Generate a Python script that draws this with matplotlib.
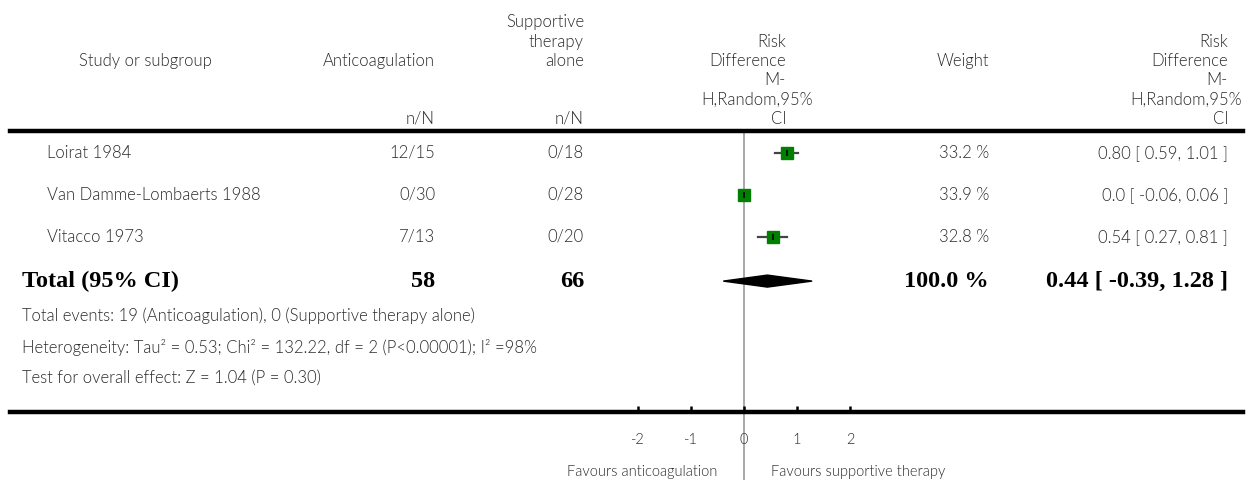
import matplotlib
matplotlib.use("Agg")
import matplotlib.pyplot as plt
from matplotlib.transforms import blended_transform_factory
from matplotlib.patches import Polygon

# data
studies = ["Loirat 1984", "Van Damme-Lombaerts 1988", "Vitacco 1973"]
anticoag = ["12/15", "0/30", "7/13"]
supportive = ["0/18", "0/28", "0/20"]
weights = ["33.2 %", "33.9 %", "32.8 %"]
rd = [0.80, 0.0, 0.54]
lo = [0.59, -0.06, 0.27]
hi = [1.01, 0.06, 0.81]
rd_text = ["0.80 [ 0.59, 1.01 ]", "0.0 [ -0.06, 0.06 ]", "0.54 [ 0.27, 0.81 ]"]
total_n = ["58", "66"]
total_rd, total_lo, total_hi = 0.44, -0.39, 1.28
total_text = "0.44 [ -0.39, 1.28 ]"
footnotes = [
    "Total events: 19 (Anticoagulation), 0 (Supportive therapy alone)",
    "Heterogeneity: Tau\u00b2 = 0.53; Chi\u00b2 = 132.22, df = 2 (P<0.00001); I\u00b2 =98%",
    "Test for overall effect: Z = 1.04 (P = 0.30)",
]
ticks = [-2, -1, 0, 1, 2]
tick_labels = ["-2", "-1", "0", "1", "2"]

W, H = 1258, 480
TXT = "#2a2a2a"
SANS = ["Lato", "DejaVu Sans"]
FS = 12
WT = 300

def fx(px):
    return px / W

def fy(py):
    return 1 - py / H

fig = plt.figure(figsize=(W / 100, H / 100), dpi=100)
ax = fig.add_axes([fx(10), fy(412), fx(1243) - fx(10), (412 - 131) / H])

# pixel scale of the effect axis: 0 at 744, 53.2 px per unit
ax.set_xlim((10 - 744) / 53.2, (1243 - 744) / 53.2)
ax.set_ylim((412 - 153) / 42, (131 - 153) / 42)
for s in ["left", "right"]:
    ax.spines[s].set_visible(False)
ax.spines["top"].set_linewidth(3.2)
ax.spines["bottom"].set_linewidth(3.2)
ax.set_yticks([])
ax.set_xticks(ticks)
ax.set_xticklabels(tick_labels, family=SANS, fontsize=10.5, color=TXT,
                   fontweight=WT)
ax.tick_params(axis="x", direction="in", length=4, width=1.8, pad=15)

# line of no effect
ax.plot([0, 0], [-0.5, (480 - 153) / 42], color="#9a9a9a", lw=1.2,
        clip_on=False, zorder=1)

# study markers
rows = list(range(len(studies)))
for r, m, l, h in zip(rows, rd, lo, hi):
    ax.plot([l, h], [r, r], color="#444444", lw=1.6, zorder=2)
    ax.plot(m, r, marker="s", ms=8.6, color="#008000", mec="#008000", zorder=3)
    ax.plot(m, r, marker="|", ms=5, mew=1.2, color="black", zorder=4)

trow = 3.05
dh = 6 / 42
ax.add_patch(Polygon([(total_lo, trow), (total_rd, trow - dh),
                      (total_hi, trow), (total_rd, trow + dh)],
                     closed=True, color="black", zorder=3))

# header
def hdr(px, py, s, ha="right"):
    fig.text(fx(px), fy(py), s, ha=ha, va="center", family=SANS,
             fontsize=FS, color=TXT, fontweight=WT)

hdr(145, 61, "Study or subgroup", ha="center")
hdr(435, 61, "Anticoagulation")
hdr(435, 119, "n/N")
for i, s in enumerate(["Supportive", "therapy", "alone"]):
    hdr(584, 22 + 19.5 * i, s)
hdr(584, 119, "n/N")
hdr(989, 61, "Weight")
for xr, xl in [(786, 813), (1228, 1242)]:
    for i, s in enumerate(["Risk", "Difference", "M-", "H,Random,95%", "CI"]):
        hdr(xl if s.startswith("H,") else xr, 42 + 19.2 * i, s)

# rows
tr = blended_transform_factory(fig.transFigure, ax.transData)

def cell(px, r, s, ha="right", bold=False):
    if bold:
        ax.text(fx(px), r, s, transform=tr, ha=ha, va="center",
                family=["Liberation Serif", "DejaVu Serif"], fontweight="bold",
                fontsize=17.5, color="black", clip_on=False)
    else:
        ax.text(fx(px), r, s, transform=tr, ha=ha, va="center", family=SANS,
                fontsize=FS, color=TXT, fontweight=WT, clip_on=False)

for r in rows:
    cell(47, r, studies[r], ha="left")
    cell(435, r, anticoag[r])
    cell(584, r, supportive[r])
    cell(989, r, weights[r])
    cell(1228, r, rd_text[r])

cell(22, trow, "Total (95% CI)", ha="left", bold=True)
cell(435, trow, total_n[0], bold=True)
cell(584, trow, total_n[1], bold=True)
cell(989, trow, "100.0 %", bold=True)
cell(1228, trow, total_text, bold=True)

for i, s in enumerate(footnotes):
    fig.text(fx(22), fy(316 + 31 * i), s, ha="left", va="center",
             family=SANS, fontsize=FS, color=TXT, fontweight=WT)

fig.text(fx(717), fy(472), "Favours anticoagulation", ha="right", va="center",
         family=SANS, fontsize=10.5, color=TXT, fontweight=WT)
fig.text(fx(771), fy(472), "Favours supportive therapy", ha="left", va="center",
         family=SANS, fontsize=10.5, color=TXT, fontweight=WT)

fig.savefig("out.png", dpi=100, facecolor="white")
